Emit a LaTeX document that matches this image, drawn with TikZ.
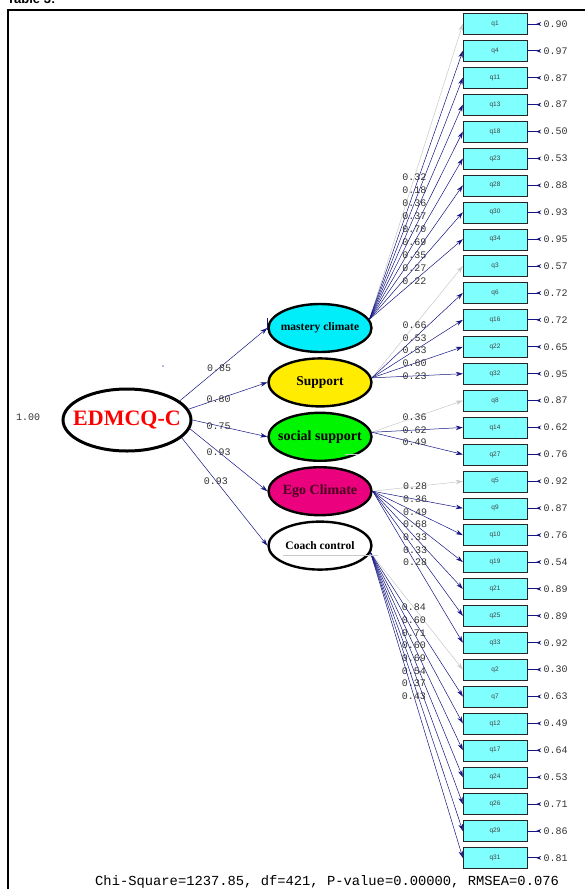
\documentclass[tikz,border=0pt]{standalone}
\usepackage{fontspec}
\setmainfont{Liberation Serif}
\newfontfamily\monofont{Liberation Mono}
\newfontfamily\labelfont{Liberation Sans}
\usetikzlibrary{shapes.geometric, positioning, arrows.meta}
\definecolor{pathblue}{RGB}{20,20,130}
\definecolor{fixedgray}{RGB}{200,200,200}
\definecolor{boxcyan}{RGB}{128,255,255}
\definecolor{mastcyan}{RGB}{0,238,250}
\definecolor{suppyellow}{RGB}{255,236,0}
\definecolor{socgreen}{RGB}{0,245,0}
\definecolor{egopink}{RGB}{235,0,125}
\tikzset{
x=1pt, y=-1pt, % one unit is one pixel of the picture, y runs downwards
node distance=4pt, % gap between the stacked factors
latent/.style={ellipse, draw, line width=2.4pt, minimum width=103pt, minimum height=48pt, inner xsep=-8pt, inner ysep=0pt, font=\bfseries},
indicator/.style={rectangle, draw=black!85, fill=boxcyan, minimum width=64pt, minimum height=21pt, inner sep=0pt, font=\labelfont\fontsize{6.5}{7}\selectfont, text=black!75},
load/.style={-{Stealth[length=7pt,width=4.5pt]}, pathblue, line width=0.5pt}, % free loadings
fixed/.style={-{Stealth[length=7pt,width=4.5pt]}, fixedgray, line width=0.5pt}, % fixed loadings
resid/.style={-{Stealth[reversed,length=5pt,width=4pt]}, pathblue, line width=1pt}, % error terms
coef/.style={font=\monofont\fontsize{10}{10}\selectfont, text=black!80, inner sep=0pt},
}
\begin{document}
\begin{tikzpicture}
    \useasboundingbox (0,0) rectangle (584,889);
    \node[anchor=base west, inner sep=0pt, font=\labelfont\bfseries\fontsize{13}{13}\selectfont] (title) at (7,3) {Table 3:};
    \draw[line width=1.3pt] (8,900) |- (600,10);

    % general factor
    \node[ellipse, draw, line width=3pt, minimum width=128pt, minimum height=62pt, inner xsep=-9pt, inner ysep=0pt, fill=white] (edmcq) at (127,420) {\textcolor{red}{\bfseries\fontsize{22}{22}\selectfont EDMCQ-C}};
    \node[coef, anchor=west] (var) at (16,417) {1.00};

    % first order factors
    \node[latent, fill=mastcyan, font=\bfseries\fontsize{11.5}{12}\selectfont] (mastery) at (320,328) {mastery climate};
    \node[latent, fill=suppyellow, font=\bfseries\fontsize{13.5}{14}\selectfont, below=of mastery] (support) {Support};
    \node[latent, fill=socgreen, font=\bfseries\fontsize{14}{14}\selectfont, below=of support] (social) {social support};
    \node[latent, fill=egopink, font=\bfseries\fontsize{14}{14}\selectfont, text={rgb,255:red,70;green,0;blue,30}, below=of social] (ego) {Ego Climate};
    \node[latent, fill=white, font=\bfseries\fontsize{11.5}{12}\selectfont, below=of ego] (coach) {Coach control};

    % items and their error terms
    \foreach \q/\e [count=\i from 0] in {q1/0.90,q4/0.97,q11/0.87,q13/0.87,q18/0.50,q23/0.53,q28/0.88,q30/0.93,q34/0.95,q3/0.57,q6/0.72,q16/0.72,q22/0.65,q32/0.95,q8/0.87,q14/0.62,q27/0.76,q5/0.92,q9/0.87,q10/0.76,q19/0.54,q21/0.89,q25/0.89,q33/0.92,q2/0.30,q7/0.63,q12/0.49,q17/0.64,q24/0.53,q26/0.71,q29/0.86,q31/0.81}
    {
        \node[indicator] (\q) at (495, 24+26.9*\i) {\q};
        \draw[resid] (\q.east) -- ++(14,0) node[coef, right=2pt] {\e};
    }

    % second order loadings
    \draw[load] (edmcq.20) -- node[coef, pos=0.45] {0.85} (mastery.west);
    \draw[load] (edmcq.10) -- node[coef, pos=0.38] {0.80} (support.west);
    \draw[load] (edmcq.east) -- node[coef, pos=0.35] {0.75} (social.west);
    \draw[load] (edmcq.-8) -- node[coef, pos=0.37] {0.93} (ego.west);
    \draw[load] (edmcq.-18) -- node[coef, pos=0.40] {0.93} (coach.west);

    % first order loadings
    \draw[fixed] (mastery.10) -- node[coef, pos=0.48] {0.32} (q1.west);
    \foreach \q/\v in {q4/0.18,q11/0.36,q13/0.37,q18/0.70,q23/0.69,q28/0.35,q30/0.27,q34/0.22}
        \draw[load] (mastery.10) -- node[coef, pos=0.48] {\v} (\q.west);
    \draw[fixed] (support.5) -- node[coef, pos=0.47] {0.66} (q3.west);
    \foreach \q/\v in {q6/0.53,q16/0.53,q22/0.60,q32/0.23}
        \draw[load] (support.5) -- node[coef, pos=0.47] {\v} (\q.west);
    \draw[fixed] (social.5) -- node[coef, pos=0.47] {0.36} (q8.west);
    \foreach \q/\v in {q14/0.62,q27/0.49}
        \draw[load] (social.5) -- node[coef, pos=0.47] {\v} (\q.west);
    \draw[fixed] (ego.east) -- node[coef, pos=0.47] {0.28} (q5.west);
    \foreach \q/\v in {q9/0.36,q10/0.49,q19/0.68,q21/0.33,q25/0.33,q33/0.28}
        \draw[load] (ego.east) -- node[coef, pos=0.47] {\v} (\q.west);
    \draw[fixed] (coach.-8) -- node[coef, pos=0.47] {0.84} (q2.west);
    \foreach \q/\v in {q7/0.60,q12/0.71,q17/0.60,q24/0.69,q26/0.54,q29/0.37,q31/0.43}
        \draw[load] (coach.-8) -- node[coef, pos=0.47] {\v} (\q.west);

    % stray marks
    \draw[pathblue, line width=0.6pt] (mastery.west) ++(0,-10) -- ++(0,12);
    \fill[pathblue!60] (163,366) circle (0.8);
    \draw[fixedgray] (social.south east) ++(-12,0) -- ++(13,0);
    \draw[fixedgray] (coach.south west) ++(0,-8) -- ++(95,0);

    \node[anchor=base west, inner sep=0pt, font=\monofont\fontsize{13.8}{14}\selectfont] (fit) at (95,885) {Chi-Square=1237.85, df=421, P-value=0.00000, RMSEA=0.076};
\end{tikzpicture}
\end{document}
